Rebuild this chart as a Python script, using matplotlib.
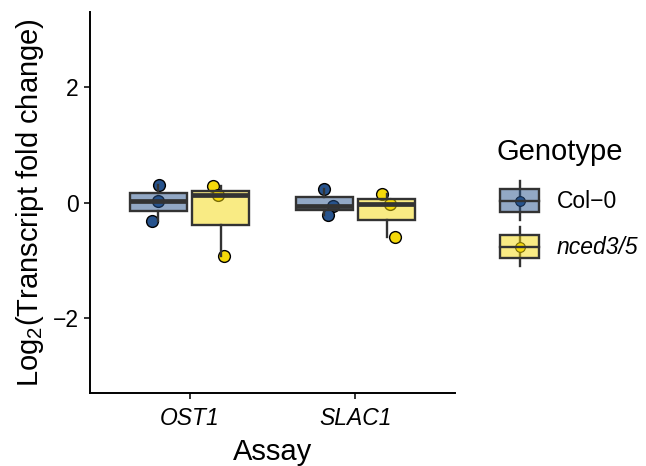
import matplotlib
matplotlib.use('Agg')
import matplotlib.pyplot as plt
from matplotlib.patches import Rectangle
from matplotlib.lines import Line2D
import numpy as np

plt.rcParams['font.family'] = ['Liberation Sans', 'DejaVu Sans']
plt.rcParams['mathtext.fontset'] = 'custom'
plt.rcParams['mathtext.rm'] = 'Liberation Sans'
plt.rcParams['mathtext.it'] = 'Liberation Sans:italic'

assays = ['OST1', 'SLAC1']
genotypes = ['Col\u22120', 'nced3/5']

# log2 fold change, three replicates per assay
col0_vals = [[0.31, 0.03, -0.32], [0.24, -0.06, -0.21]]
nced_vals = [[0.28, 0.13, -0.92], [0.14, -0.02, -0.60]]
# horizontal jitter of the replicate points
col0_jit = [[0.003, -0.005, -0.04], [-0.003, 0.05, 0.025]]
nced_jit = [[-0.047, -0.017, 0.023], [-0.027, 0.02, 0.05]]

point_cols = ['#27538d', '#f5d90a']
edge = '#333333'

W, H = 646, 466
fig = plt.figure(figsize=(W / 100, H / 100), dpi=100)
ax = fig.add_axes([90 / W, 1 - 393 / H, (455 - 90) / W, (393 - 12) / H])

dodge = 0.1875
box_w = 0.34
pos = np.arange(1, len(assays) + 1)

for g, (vals, jit) in enumerate([(col0_vals, col0_jit), (nced_vals, nced_jit)]):
    off = -dodge if g == 0 else dodge
    for i in range(len(assays)):
        x = pos[i] + off + np.array(jit[i])
        ax.scatter(x, vals[i], s=72, c=point_cols[g], edgecolors='black',
                   linewidths=1.0, zorder=2)
    bp = ax.boxplot(vals, positions=pos + off, widths=box_w, patch_artist=True,
                    showcaps=False, showfliers=False, manage_ticks=False,
                    zorder=3)
    for b in bp['boxes']:
        b.set_facecolor(matplotlib.colors.to_rgba(point_cols[g], 0.5))
        b.set_edgecolor(edge)
        b.set_linewidth(1.7)
    for w in bp['whiskers']:
        w.set_color(edge)
        w.set_linewidth(1.7)
    for m in bp['medians']:
        m.set_color(edge)
        m.set_linewidth(3.4)
        m.set_solid_capstyle('butt')

ax.set_xlim(0.4, 2.6)
ax.set_ylim(-3.3, 3.3)
ax.set_yticks([-2, 0, 2])
ax.set_xticks(pos)
ax.set_xticklabels(assays, fontstyle='italic')
for s in ['top', 'right']:
    ax.spines[s].set_visible(False)
for s in ['left', 'bottom']:
    ax.spines[s].set_linewidth(1.4)
ax.tick_params(length=4, width=1.4, color=edge, labelsize=16.5, pad=4)
ax.tick_params(axis='x', pad=6)
ax.set_xlabel('Assay', fontsize=21, labelpad=6)
ax.set_ylabel('Log$_2$(Transcript fold change)', fontsize=21, labelpad=5)


# legend drawn by hand in figure pixels
def fx(px):
    return px / W


def fy(py):
    return 1 - py / H


fig.text(fx(497), fy(160), 'Genotype', fontsize=21, va='baseline')
key_y = [200.5, 246.5]
for g in range(2):
    cy = key_y[g]
    fig.add_artist(Line2D([fx(519.5)], [fy(cy)], marker='o', ms=7,
                          mfc=point_cols[g], mec='black', mew=0.8,
                          transform=fig.transFigure, zorder=2))
    fig.add_artist(Line2D([fx(519.5), fx(519.5)], [fy(cy - 19.5), fy(cy + 19.5)],
                          color=edge, lw=1.7, transform=fig.transFigure, zorder=1))
    fig.add_artist(Rectangle((fx(500.5), fy(cy + 11.5)), fx(38), 23 / H,
                             facecolor=matplotlib.colors.to_rgba(point_cols[g], 0.5),
                             edgecolor=edge, lw=1.7, transform=fig.transFigure,
                             zorder=3))
    fig.add_artist(Line2D([fx(500.5), fx(538.5)], [fy(cy), fy(cy)], color=edge,
                          lw=1.7, transform=fig.transFigure, zorder=4))
    fig.text(fx(557), fy(cy + 8), genotypes[g], fontsize=16.5, va='baseline',
             fontstyle='italic' if g == 1 else 'normal')

fig.savefig('out.png', dpi=100)
